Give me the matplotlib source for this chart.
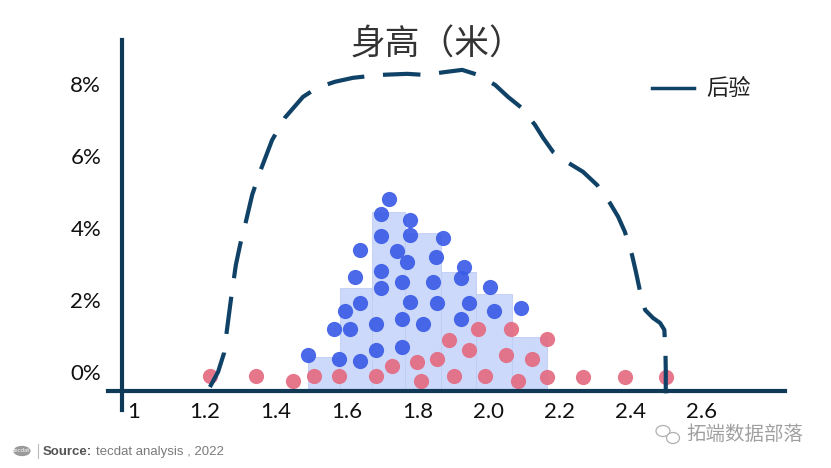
import numpy as np
import matplotlib
matplotlib.use('Agg')
import matplotlib.pyplot as plt
from matplotlib.lines import Line2D
from matplotlib.patches import Circle, Ellipse

plt.rcParams['font.family'] = ['Lato', 'Noto Sans CJK SC', 'DejaVu Sans']

# Histogram of observed heights (percent of sample)
bin_edges = [1.49, 1.58, 1.67, 1.765, 1.865, 1.965, 2.065, 2.165]
bin_pct = [0.42, 2.33, 4.44, 3.86, 2.78, 2.17, 0.97]

# Blue dots (sample points stacked in the histogram)
blue_x = [1.719, 1.697, 1.778, 1.697, 1.778, 1.871, 1.637, 1.742, 1.770, 1.851,
          1.697, 1.930, 1.623, 1.756, 1.843, 1.922, 1.697, 2.003, 1.637, 1.778,
          1.854, 1.944, 1.595, 2.015, 2.091, 1.564, 1.609, 1.683, 1.756, 1.815,
          1.922, 1.491, 1.578, 1.637, 1.683, 1.756]
blue_y = [4.81, 4.39, 4.22, 3.78, 3.81, 3.72, 3.39, 3.36, 3.06, 3.19,
          2.81, 2.92, 2.64, 2.50, 2.50, 2.61, 2.33, 2.36, 1.92, 1.94,
          1.92, 1.92, 1.69, 1.69, 1.78, 1.19, 1.19, 1.33, 1.47, 1.33,
          1.47, 0.47, 0.36, 0.31, 0.61, 0.69]

# Pink dots
pink_x = [1.215, 1.345, 1.449, 1.508, 1.578, 1.683, 1.728, 1.798, 1.809, 1.854,
          1.888, 1.902, 1.944, 1.970, 1.989, 2.062, 2.048, 2.082, 2.122, 2.164,
          2.164, 2.265, 2.383, 2.499]
pink_y = [-0.11, -0.11, -0.25, -0.11, -0.11, -0.11, 0.17, 0.28, -0.25, 0.36,
          0.89, -0.11, 0.61, 1.19, -0.11, 1.19, 0.47, -0.25, 0.36, 0.92,
          -0.14, -0.14, -0.14, -0.14]

# Posterior curve (dashed)
post_x = [1.215, 1.238, 1.255, 1.263, 1.274, 1.288, 1.300, 1.314, 1.334, 1.356,
          1.390, 1.426, 1.477, 1.516, 1.567, 1.618, 1.694, 1.770, 1.820, 1.877,
          1.925, 1.970, 2.018, 2.054, 2.093, 2.130, 2.153, 2.181, 2.220, 2.265,
          2.305, 2.341, 2.364, 2.383, 2.403, 2.414, 2.426, 2.440, 2.462, 2.482,
          2.494, 2.497, 2.498, 2.498]
post_y = [-0.42, 0.00, 0.53, 1.17, 2.00, 2.97, 3.53, 4.08, 4.92, 5.56,
          6.44, 7.06, 7.64, 7.89, 8.06, 8.17, 8.25, 8.28, 8.25, 8.33,
          8.39, 8.25, 7.97, 7.64, 7.33, 6.86, 6.50, 6.11, 5.83, 5.56,
          5.19, 4.69, 4.31, 3.89, 3.25, 2.78, 2.22, 1.72, 1.50, 1.36,
          1.17, 0.61, 0.06, -0.70]

x_ticks = [1.0, 1.2, 1.4, 1.6, 1.8, 2.0, 2.2, 2.4, 2.6]
x_labels = ['1', '1.2', '1.4', '1.6', '1.8', '2.0', '2.2', '2.4', '2.6']
y_ticks = [0, 2, 4, 6, 8]

navy = '#0f4266'
axis_col = '#0e3a57'

fig = plt.figure(figsize=(8.31, 4.68), dpi=100)
ax = fig.add_axes([122 / 831, 1 - 391 / 468, 663 / 831, 351 / 468])
ax.set_xlim(0.9676, 2.8336)
ax.set_ylim(-0.53, 9.22)

lo = ax.get_ylim()[0]
edges = np.array(bin_edges)
ax.bar(edges[:-1], np.array(bin_pct) - lo, bottom=lo, width=np.diff(edges), align='edge',
       color='#cdd9fb', edgecolor='#bfcdf6', linewidth=0.6, zorder=1)

ax.scatter(blue_x, blue_y, s=120, color='#3b5ce6', alpha=0.92, linewidths=0, zorder=3)
ax.scatter(pink_x, pink_y, s=120, color='#e4687f', alpha=0.9, linewidths=0, zorder=4)

ax.plot(post_x, post_y, color=navy, lw=3, linestyle=(0, (9, 4.5)), zorder=5,
        solid_capstyle='butt', clip_on=False)

for s in ax.spines.values():
    s.set_visible(False)
ax.plot([-0.021, 1.0], [0, 0], transform=ax.transAxes, color=axis_col, lw=3, clip_on=False, zorder=6)
ax.plot([0, 0], [-0.054, 1.0], transform=ax.transAxes, color=axis_col, lw=3, clip_on=False, zorder=6)

ax.set_xticks(x_ticks)
ax.set_xticklabels(x_labels)
ax.set_yticks(y_ticks)
ax.set_yticklabels([f'{v}%' for v in y_ticks])
ax.tick_params(axis='both', length=0, labelsize=16, colors='#111111')
ax.tick_params(axis='y', pad=15)
ax.tick_params(axis='x', pad=8)

fig.text(437 / 831, 1 - 45 / 468, '身高（米）', ha='center', va='center', fontsize=25,
         color='#333333', family=['Noto Sans CJK SC', 'DejaVu Sans'])

# legend
fig.add_artist(Line2D([652 / 831, 694 / 831], [1 - 88 / 468, 1 - 88 / 468], color=navy, lw=2.5))
fig.text(706 / 831, 1 - 88 / 468, '后验', ha='left', va='center', fontsize=16,
         color='#222222', family=['Noto Sans CJK SC', 'DejaVu Sans'])

# source line
fig.add_artist(Circle((22 / 831, 1 - 451 / 468), 0.0095, transform=fig.transFigure,
                      color='#9a9a9a', zorder=1))
fig.text(22 / 831, 1 - 451 / 468, 'tecdat', ha='center', va='center', fontsize=4.5, color='white')
fig.add_artist(Line2D([38 / 831, 38 / 831], [1 - 444 / 468, 1 - 458 / 468], color='#bbbbbb', lw=0.8))
fig.text(43 / 831, 1 - 452 / 468, 'Source:', ha='left', va='center', fontsize=9.5,
         fontweight='bold', color='#555555', family='Liberation Sans')
fig.text(96 / 831, 1 - 452 / 468, 'tecdat analysis , 2022', ha='left', va='center', fontsize=9.5,
         color='#7a7a7a', family='Liberation Sans')

# watermark
fig.add_artist(Ellipse((663 / 831, 1 - 431 / 468), 14 / 831, 11 / 468, transform=fig.transFigure,
                       fill=False, edgecolor='#b0b0b0', lw=0.9))
fig.add_artist(Ellipse((673 / 831, 1 - 438 / 468), 13 / 831, 11 / 468, transform=fig.transFigure,
                       facecolor='white', edgecolor='#b0b0b0', lw=0.9))
fig.text(686 / 831, 1 - 434 / 468, '拓端数据部落', ha='left', va='center', fontsize=14,
         color='#a0a0a0', family=['Noto Sans CJK SC', 'DejaVu Sans'])

fig.savefig('out.png', dpi=100)
